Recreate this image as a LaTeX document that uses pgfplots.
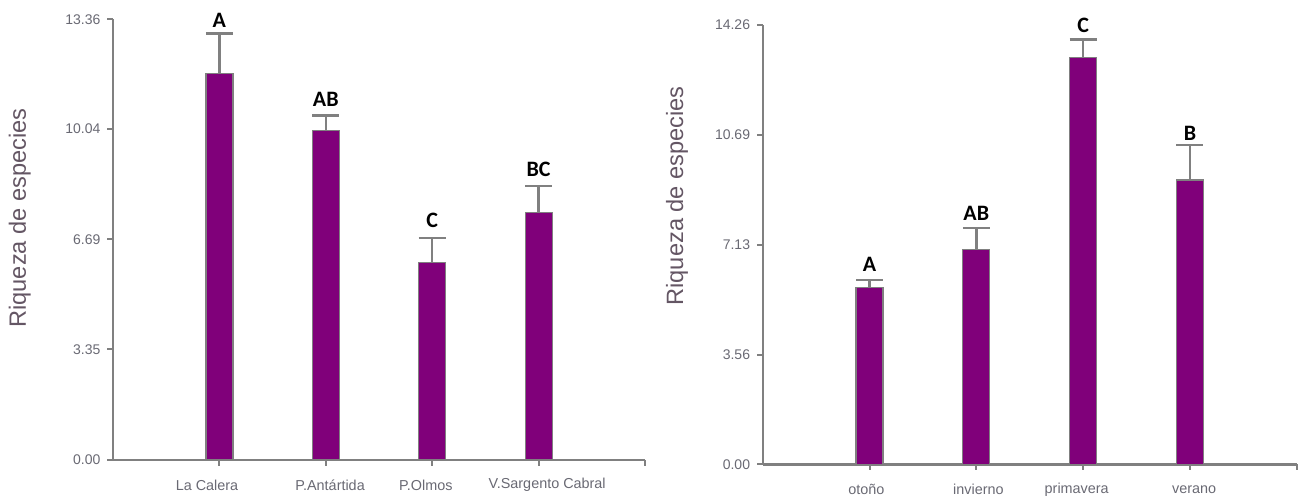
\documentclass[border=0pt]{standalone}
\usepackage{fontspec}
\setmainfont{Liberation Sans}
\newfontfamily\carlito{Carlito}
\usepackage{pgfplots}
\pgfplotsset{compat=1.18}
\usepackage{pgfplotstable}
\definecolor{barpurple}{RGB}{128,0,122}
\definecolor{axisgray}{RGB}{128,128,128}
\definecolor{ticktext}{RGB}{105,105,115}
\definecolor{labtext}{RGB}{100,86,100}

\pgfplotstableread{
x y e
0 11.72 1.21
1 9.98 0.46
2 5.99 0.74
3 7.50 0.81
}\sitios
\pgfplotstableread{
x y l
0 13.34 A
1 10.94 AB
2 7.27 C
3 8.82 BC
}\sitiosletras
\pgfplotstableread{
x y e
0 5.74 0.24
1 6.96 0.72
2 13.21 0.58
3 9.23 1.13
}\estaciones
\pgfplotstableread{
x y l
0 6.50 A
1 8.16 AB
2 14.24 C
3 10.75 B
}\estacionesletras

\pgfplotsset{
  riq/.style={
    scale only axis,
    anchor=south west,
    clip=false,
    xmin=-1, xmax=4,
    ymin=0,
    axis x line*=bottom,
    axis y line*=left,
    axis line style={-, line width=1.2pt, color=axisgray},
    tick style={line width=1pt, color=axisgray},
    tick align=outside,
    major tick length=2.8pt,
    xtick={0,1,2,3,4},
    xticklabels={},
    y tick label style={font=\fontsize{7}{7}\selectfont, text=ticktext,
      /pgf/number format/.cd, fixed, fixed zerofill, precision=2, assume math mode=true},
    extra x tick style={major tick length=0pt, tick style={draw=none},
      x tick label style={font=\fontsize{7.2}{7.2}\selectfont, text=ticktext, anchor=center, yshift=-12.5pt}},
    ylabel={Riqueza de especies},
  },
  barstyle/.style={
    ybar, bar width=13.5pt, fill=barpurple, draw=axisgray, line width=0.6pt,
    error bars/.cd, y dir=plus, y explicit,
    error bar style={line width=1.2pt, draw=axisgray},
    error mark options={rotate=90, line width=1.2pt, draw=axisgray, mark size=6.75pt},
  },
  letterstyle/.style={
    draw=none, mark=none,
    nodes near coords, point meta=explicit symbolic,
    every node near coord/.append style={font=\carlito\bfseries\fontsize{11}{11}\selectfont,
      text=black, anchor=center, inner sep=0pt},
  },
}

\begin{document}
\begin{tikzpicture}
\path[use as bounding box] (0,0) rectangle (649.5pt,251.5pt);

\begin{axis}[riq,
  at={(56.5pt,21.5pt)},
  width=266pt, height=220.35pt,
  ymax=13.36,
  ytick={0,3.35,6.69,10.04,13.36},
  extra x ticks={-0.116,1.04,1.94,3.08},
  extra x tick labels={La Calera,P.Antártida,P.Olmos,V.Sargento Cabral},
  every axis y label/.style={at={(axis description cs:-0.175,0.549)}, rotate=90, anchor=center,
    font=\fontsize{11.8}{11.8}\selectfont, text=labtext},
]
\addplot[barstyle] table[x=x, y=y, y error=e] {\sitios};
\addplot[letterstyle] table[x=x, y=y, meta=l] {\sitiosletras};
\end{axis}

\begin{axis}[riq,
  at={(381.35pt,19.35pt)},
  width=267pt, height=219.65pt,
  ymax=14.26,
  ytick={0,3.56,7.13,10.69,14.26},
  extra x ticks={-0.03,1.02,1.94,3.04},
  extra x tick labels={otoño,invierno,primavera,verano},
  every axis y label/.style={at={(axis description cs:-0.1605,0.611)}, rotate=90, anchor=center,
    font=\fontsize{11.8}{11.8}\selectfont, text=labtext},
]
\addplot[barstyle] table[x=x, y=y, y error=e] {\estaciones};
\addplot[letterstyle] table[x=x, y=y, meta=l] {\estacionesletras};
\end{axis}
\end{tikzpicture}
\end{document}
